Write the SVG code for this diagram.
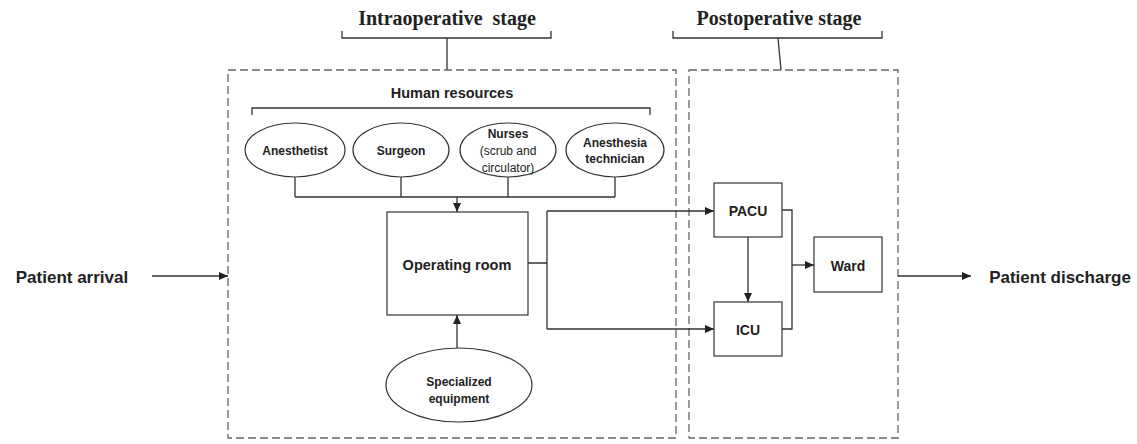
<svg xmlns="http://www.w3.org/2000/svg" width="1137" height="444" viewBox="0 0 1137 444">
<style>
.t{font-family:"Liberation Serif",serif;font-weight:bold;font-size:20px;fill:#222;text-anchor:middle}
.s{font-family:"Liberation Sans",Arial,sans-serif;fill:#222;text-anchor:middle}
.b{font-weight:bold}
.dash{fill:none;stroke:#666;stroke-width:1.3;stroke-dasharray:8 4}
.ln{fill:none;stroke:#333;stroke-width:1.3}
.nd{fill:#fff;stroke:#333;stroke-width:1.2}
</style>
<defs>
<marker id="ah" markerWidth="10" markerHeight="10" refX="9" refY="5" orient="auto" markerUnits="userSpaceOnUse">
<path d="M0,1 L9,5 L0,9 Z" fill="#222"/>
</marker>
</defs>
<rect width="1137" height="444" fill="#fff"/>
<g id="stage-intra">
<text class="t" x="447" y="25" xml:space="preserve">Intraoperative  stage</text>
<path class="ln" d="M342,31 V38 H551 V31 M447,38 V70"/>
<rect class="dash" x="228" y="70" width="448" height="368"/>
</g>
<g id="stage-post">
<text class="t" x="779" y="25">Postoperative stage</text>
<path class="ln" d="M673,31 V38 H882 V31 M778,38 L781,70"/>
<rect class="dash" x="689" y="70" width="209" height="368"/>
</g>
<g id="human-resources">
<text class="s b" x="452" y="98" font-size="14.5">Human resources</text>
<path class="ln" d="M252,115 V108 H650 V115"/>
</g>
<g id="anesthetist">
<ellipse class="nd" cx="295" cy="150" rx="50" ry="27"/>
<text class="s b" x="295" y="155" font-size="12">Anesthetist</text>
</g>
<g id="surgeon">
<ellipse class="nd" cx="401" cy="150" rx="48" ry="27"/>
<text class="s b" x="401" y="155" font-size="12">Surgeon</text>
</g>
<g id="nurses">
<ellipse class="nd" cx="508" cy="150" rx="48" ry="27"/>
<text class="s b" x="508" y="138" font-size="12">Nurses</text>
<text class="s" x="508" y="155" font-size="12">(scrub and</text>
<text class="s" x="508" y="172" font-size="12">circulator)</text>
</g>
<g id="anesthesia-technician">
<ellipse class="nd" cx="615" cy="150" rx="49" ry="27"/>
<text class="s b" x="615" y="147" font-size="12">Anesthesia</text>
<text class="s b" x="615" y="163" font-size="12">technician</text>
</g>
<g id="operating-room">
<rect class="nd" x="387" y="212" width="141" height="103"/>
<text class="s b" x="457" y="270" font-size="14.5">Operating room</text>
</g>
<g id="specialized-equipment">
<ellipse class="nd" cx="459" cy="385" rx="73" ry="37"/>
<text class="s b" x="459" y="386" font-size="12">Specialized</text>
<text class="s b" x="459" y="403" font-size="12">equipment</text>
</g>
<g id="pacu">
<rect class="nd" x="714" y="183" width="68" height="54"/>
<text class="s b" x="748" y="216" font-size="14">PACU</text>
</g>
<g id="icu">
<rect class="nd" x="714" y="302" width="68" height="54"/>
<text class="s b" x="748" y="335" font-size="14">ICU</text>
</g>
<g id="ward">
<rect class="nd" x="814" y="237" width="68" height="55"/>
<text class="s b" x="848" y="271" font-size="14">Ward</text>
</g>
<g id="patient-arrival">
<text class="s b" x="72" y="283" font-size="17">Patient arrival</text>
</g>
<g id="patient-discharge">
<text class="s b" x="1060" y="283" font-size="17">Patient discharge</text>
</g>
<g id="connectors">
<path class="ln" d="M295,177 V197 M401,177 V197 M508,177 V197 M615,177 V197 M295,197 H615"/>
<path class="ln" d="M457,197 V212" marker-end="url(#ah)"/>
<path class="ln" d="M457,348 V315" marker-end="url(#ah)"/>
<path class="ln" d="M528,263 H547 M547,211 V329"/>
<path class="ln" d="M547,211 H714" marker-end="url(#ah)"/>
<path class="ln" d="M547,329 H714" marker-end="url(#ah)"/>
<path class="ln" d="M748,237 V302" marker-end="url(#ah)"/>
<path class="ln" d="M782,210 H792 V329 H782"/>
<path class="ln" d="M792,265 H814" marker-end="url(#ah)"/>
<path class="ln" d="M152,276 H228" marker-end="url(#ah)"/>
<path class="ln" d="M898,276 H971" marker-end="url(#ah)"/>
</g>
</svg>
